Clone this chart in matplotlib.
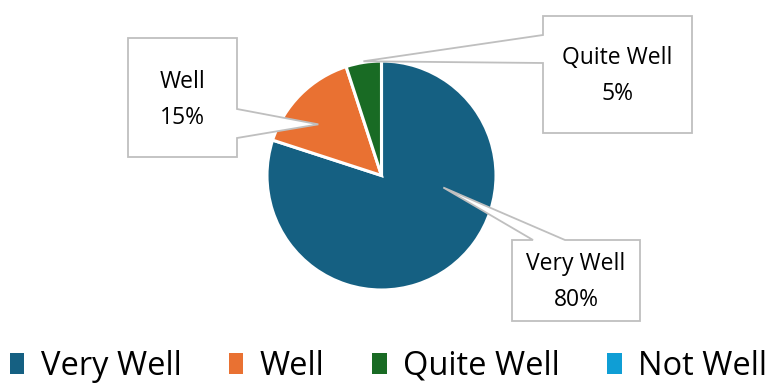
import matplotlib
matplotlib.use('Agg')
import matplotlib.pyplot as plt
import numpy as np
from matplotlib.patches import Patch, Polygon

plt.rcParams['font.family'] = ['Open Sans', 'DejaVu Sans']

categories = ['Very Well', 'Well', 'Quite Well', 'Not Well']
percent = [80, 15, 5, 0]
colors = ['#156082', '#E97132', '#196B24', '#0F9ED5']

W, H = 769, 387
fig = plt.figure(figsize=(W / 100, H / 100), dpi=100)
ax = fig.add_axes([0, 0, 1, 1])

# pie centre / radius in pixel units, y measured from the top
cx, cy, R = 381.5, 175.5, 114.5


def fy(y):
    return H - y


wedges, _ = ax.pie(percent, colors=colors, startangle=90, counterclock=False,
                   radius=R, center=(cx, fy(cy)),
                   wedgeprops=dict(edgecolor='white', linewidth=2.2))
ax.set_xlim(0, W)
ax.set_ylim(0, H)
ax.set_aspect('equal')
ax.axis('off')

# callout boxes: (x0, y0, x1, y1), side carrying the pointer, pointer base, tip (angle, r/R)
callouts = [
    (0, (512, 240, 640, 321), 'top', (533, 565), (-11, 0.55)),
    (1, (128, 38, 237, 157), 'right', (109, 138), (141, 0.71)),
    (2, (543, 16, 692, 133), 'left', (35, 63), (99, 1.01)),
]

for idx, (x0, y0, x1, y1), side, (b0, b1), (ang, rf) in callouts:
    tx = cx + rf * R * np.cos(np.radians(ang))
    ty = cy - rf * R * np.sin(np.radians(ang))
    if side == 'top':
        pts = [(x0, y0), (b0, y0), (tx, ty), (b1, y0), (x1, y0), (x1, y1), (x0, y1)]
    elif side == 'right':
        pts = [(x0, y0), (x1, y0), (x1, b0), (tx, ty), (x1, b1), (x1, y1), (x0, y1)]
    else:
        pts = [(x0, y0), (x1, y0), (x1, y1), (x0, y1), (x0, b1), (tx, ty), (x0, b0)]
    poly = Polygon([(x, fy(y)) for x, y in pts], closed=True, facecolor='white',
                   edgecolor='#BFBFBF', linewidth=1.3, zorder=5)
    ax.add_patch(poly)
    xm = (x0 + x1) / 2
    ym = (y0 + y1) / 2
    ax.text(xm, fy(ym - 16), categories[idx], ha='center', va='center',
            fontsize=16.5, color='black', zorder=6)
    ax.text(xm, fy(ym + 20), f'{percent[idx]}%', ha='center', va='center',
            fontsize=16.5, color='black', zorder=6)

handles = [Patch(facecolor=c, edgecolor='none') for c in colors]
fig.legend(handles, categories, loc='lower center', bbox_to_anchor=(0.505, -0.065),
           ncol=4, frameon=False, fontsize=23.5, handlelength=0.45, handleheight=0.6,
           handletextpad=0.5, columnspacing=1.45)

fig.savefig('out.png', dpi=100)
